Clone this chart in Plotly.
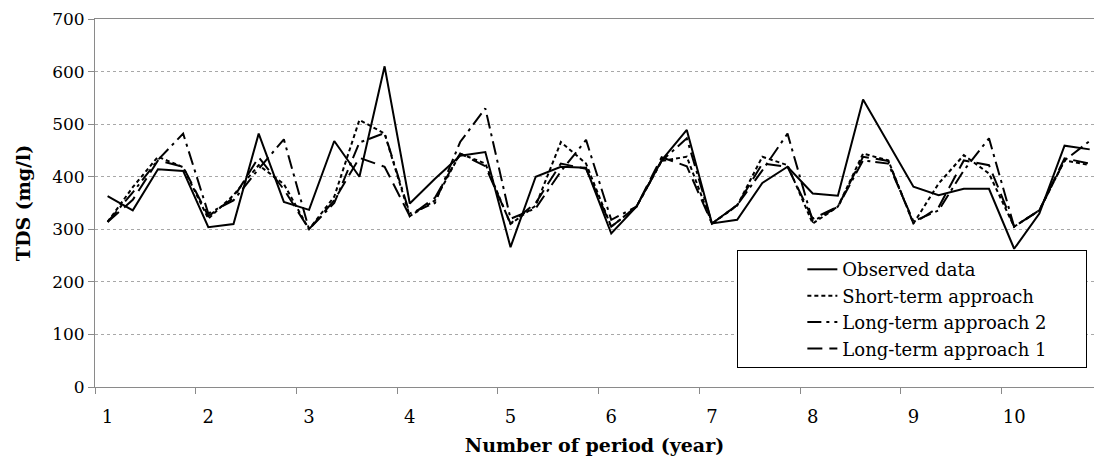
import numpy as np
import plotly.graph_objects as go

# Seasonal TDS series, four values per year over ten years
years = list(range(1, 11))
seasons_per_year = 4

observed = [363, 336, 414, 411, 304, 310, 482, 352, 337, 468,
            400, 610, 349, 396, 440, 447, 266, 400, 419, 417,
            292, 343, 431, 489, 311, 318, 388, 419, 368, 364,
            547, 463, 381, 365, 377, 377, 263, 330, 459, 452]

short_term = [314, 380, 438, 418, 320, 365, 422, 386, 300, 362,
              508, 482, 325, 355, 444, 425, 310, 345, 466, 425,
              305, 343, 430, 438, 311, 345, 438, 422, 311, 343,
              444, 431, 311, 387, 441, 406, 305, 336, 431, 422]

long_term_2 = [314, 370, 432, 482, 330, 355, 415, 471, 300, 350,
               465, 483, 330, 350, 466, 530, 320, 340, 410, 470,
               318, 343, 430, 473, 311, 346, 412, 482, 315, 343,
               431, 425, 315, 336, 412, 473, 305, 336, 431, 468]

long_term_1 = [314, 356, 431, 419, 325, 360, 437, 376, 300, 355,
               436, 419, 325, 360, 444, 420, 311, 350, 425, 415,
               305, 343, 437, 420, 311, 346, 425, 419, 320, 343,
               438, 430, 311, 342, 431, 422, 305, 336, 435, 425]

# period position: year + season fraction
period = 1 + np.arange(len(observed)) / seasons_per_year

SERIF = "DejaVu Serif"
AXIS_GRAY = "#8a8a8a"
PAD = "\u00a0" * 6  # extra room at the right of the legend box

series = [
    ("Observed data", observed, "solid"),
    ("Short-term approach", short_term, "4px,3px"),
    ("Long-term approach 2", long_term_2, "14px,5px,3px,5px"),
    ("Long-term approach 1", long_term_1, "15px,7px"),
]

fig = go.Figure()
for name, values, dash in series:
    fig.add_trace(go.Scatter(
        x=period, y=values, mode="lines", name=name + PAD,
        line=dict(color="black", width=2, dash=dash),
    ))

fig.update_layout(
    width=1094, height=462,
    margin=dict(l=95, r=0, t=19, b=75),
    paper_bgcolor="white", plot_bgcolor="white",
    font=dict(family=SERIF, color="black", size=17),
    showlegend=True,
    legend=dict(
        x=0.643, y=0.372, xanchor="left", yanchor="top",
        bgcolor="white", bordercolor="black", borderwidth=1,
        font=dict(family=SERIF, size=18, color="black"),
        indentation=64, tracegroupgap=0,
    ),
)

fig.update_xaxes(
    range=[0.875, 1 + 39.17 / seasons_per_year],
    tickmode="array", tickvals=years, ticktext=[str(y) for y in years],
    ticks="", showgrid=False, zeroline=False,
    showline=True, linecolor=AXIS_GRAY, linewidth=1, mirror=True,
    tickfont=dict(family=SERIF, size=18, color="black"),
    ticklabelstandoff=13,
    minor=dict(tickmode="array", tickvals=[y - 0.125 for y in years],
               ticks="outside", ticklen=6, tickcolor=AXIS_GRAY, showgrid=False),
    title=dict(text="<b>Number of period (year)</b>",
               font=dict(family=SERIF, size=19, color="black"), standoff=13),
)

fig.update_yaxes(
    range=[0, 700], dtick=100, tick0=0,
    ticks="outside", ticklen=6, tickcolor=AXIS_GRAY,
    showline=True, linecolor=AXIS_GRAY, linewidth=1,
    showgrid=True, gridcolor="#a8a8a8", griddash="dot", gridwidth=1,
    zeroline=False,
    tickfont=dict(family=SERIF, size=17, color="black"),
    title=dict(text="<b>TDS (mg/l)</b>",
               font=dict(family=SERIF, size=19, color="black"), standoff=16),
)

fig.write_html("out.html")
